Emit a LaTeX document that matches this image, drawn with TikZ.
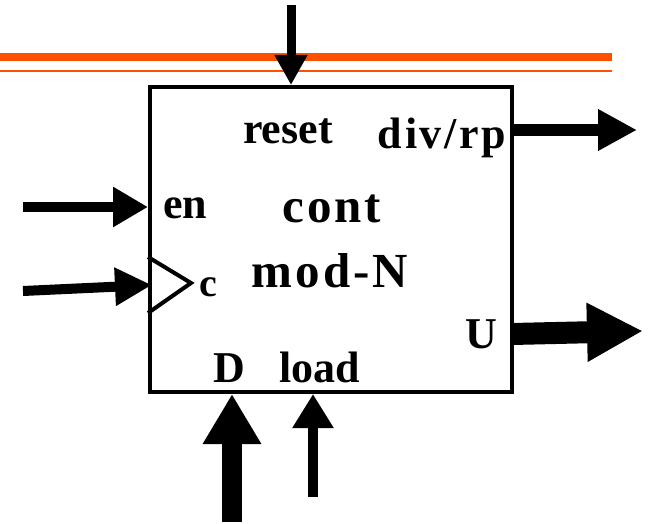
\documentclass[tikz,border=0pt]{standalone}
\usepackage{fontspec}
\setmainfont{Liberation Serif}
\newfontfamily\spfont[LetterSpace=6]{Liberation Serif}
\newfontfamily\bigfont[LetterSpace=6]{Liberation Serif}
\usepackage{xcolor}
\usetikzlibrary{arrows.meta}
\definecolor{rulecol}{RGB}{255,80,0}

\begin{document}
\begin{tikzpicture}[x=1pt, y=-1pt,
    pin/.style={font=\bfseries\fontsize{44}{46}\selectfont, anchor=base, inner sep=0pt},
    big/.style={font=\bigfont\bfseries\fontsize{49}{51}\selectfont, anchor=base, inner sep=0pt},
    sig/.style n args={3}{line width=#1, -{Triangle[length=#2, width=#3]}}]
    \useasboundingbox (0,0) rectangle (656,524);
    % title rules
    \draw[rulecol, line width=8pt] (0,57) -- (612,57);
    \draw[rulecol, line width=2pt] (0,71) -- (612,71);
    % the counter block
    \node[draw, line width=4pt, minimum width=362pt, minimum height=305pt, inner sep=0pt] (cnt) at (331,239.5) {};
    \node[pin] (rst) at (288,143) {reset};
    \node[pin, font=\spfont\bfseries\fontsize{44}{46}\selectfont] (div) at (442,149) {div/rp};
    \node[pin] (en) at (185,218) {en};
    \node[pin, font=\bfseries\fontsize{40}{42}\selectfont] (clk) at (208,296) {c};
    \node[pin] (out) at (481,348) {U};
    \node[pin] (dat) at (229,382) {D};
    \node[pin] (ld) at (320,382) {load};
    \node[big] (nm1) at (332,222) {cont};
    \node[big] (nm2) at (330,287) {mod-N};
    % clock mark
    \draw[line width=4pt, line join=miter] (cnt.west |- 0,257) -- (191,283) -- (cnt.west |- 0,313);
    % outside ends
    \coordinate (rstin) at (291,5);
    \coordinate (enin) at (23,207);
    \coordinate (clkin) at (23,291);
    \coordinate (clkpt) at (152,285);
    \coordinate (divout) at (637,130);
    \coordinate (uout) at (643,331);
    \coordinate (uat) at (512,334);
    \coordinate (datin) at (232,522);
    \coordinate (ldin) at (313,497);
    % inputs
    \draw[sig={9pt}{30pt}{31pt}] (rstin) -- (rstin |- cnt.north);
    \draw[sig={10pt}{35pt}{38pt}] (enin) -- (enin -| cnt.west);
    \draw[sig={10pt}{37pt}{36pt}] (clkin) -- (clkpt);
    \draw[sig={20pt}{50pt}{55pt}] (datin) -- (datin |- cnt.south);
    \draw[sig={10pt}{34pt}{39pt}] (ldin) -- (ldin |- cnt.south);
    % outputs
    \draw[sig={12pt}{39pt}{39pt}] (divout -| cnt.east) -- (divout);
    \draw[sig={22pt}{56pt}{55pt}] (uat) -- (uout);
\end{tikzpicture}
\end{document}
